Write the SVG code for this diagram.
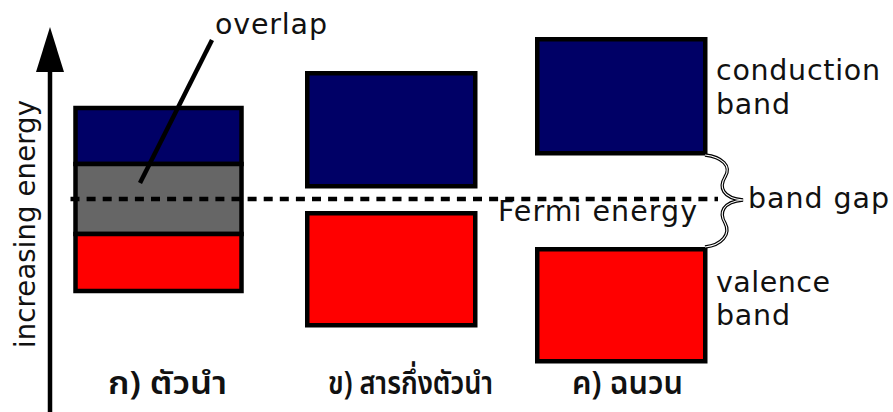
<svg xmlns="http://www.w3.org/2000/svg" width="893" height="412" viewBox="0 0 893 412">
<style>
.box{stroke:#000;stroke-width:4.5}
.cb{fill:#000066}
.vb{fill:#ff0000}
.ov{fill:#666666}
.lbl{font-family:"DejaVu Sans","Liberation Sans",sans-serif;font-size:28.5px;fill:#111}
.th{font-family:"Noto Sans Thai","Noto Sans","DejaVu Sans",sans-serif;font-size:32px;font-weight:600;fill:#111}
.ln{stroke:#000;stroke-width:4.5;fill:none}
</style>
<rect width="893" height="412" fill="#fff"/>
<g id="axis">
<line class="ln" x1="50" y1="412" x2="50" y2="70"/>
<polygon points="50,27 36,72 64,72" fill="#000"/>
<text class="lbl" style="font-size:27.5px" transform="translate(35,224) rotate(-90)" text-anchor="middle" textLength="248" lengthAdjust="spacing">increasing energy</text>
</g>
<g id="conductor">
<rect class="box cb" x="75.5" y="108" width="166" height="56"/>
<rect class="box ov" x="75.5" y="164" width="166" height="70"/>
<rect class="box vb" x="75.5" y="234" width="166" height="57"/>
<text class="th" x="108" y="394" textLength="119" lengthAdjust="spacingAndGlyphs">ก) ตัวนำ</text>
</g>
<g id="semiconductor">
<rect class="box cb" x="307.25" y="73.25" width="168" height="113"/>
<rect class="box vb" x="307.25" y="213.25" width="168" height="112"/>
<text class="th" x="328" y="394" textLength="165" lengthAdjust="spacingAndGlyphs">ข) สารกึ่งตัวนำ</text>
</g>
<g id="insulator">
<rect class="box cb" x="537.25" y="39.25" width="168" height="114"/>
<rect class="box vb" x="537.25" y="249.25" width="168" height="112"/>
<text class="th" x="572" y="394" textLength="111" lengthAdjust="spacingAndGlyphs">ค) ฉนวน</text>
</g>
<g id="labels">
<text class="lbl" x="215" y="34" textLength="112" lengthAdjust="spacing">overlap</text>
<text class="lbl" x="716" y="80" textLength="164" lengthAdjust="spacing">conduction</text>
<text class="lbl" x="716" y="114" textLength="74" lengthAdjust="spacing">band</text>
<text class="lbl" x="748" y="208" textLength="141" lengthAdjust="spacing">band gap</text>
<text class="lbl" x="498" y="221" textLength="199" lengthAdjust="spacing">Fermi energy</text>
<text class="lbl" x="716" y="292" textLength="114" lengthAdjust="spacing">valence</text>
<text class="lbl" x="716" y="325" textLength="74" lengthAdjust="spacing">band</text>
</g>
<g id="connectors">
<line class="ln" x1="70.5" y1="199" x2="718" y2="199" stroke-dasharray="9 7.1"/>
<line class="ln" x1="212" y1="40" x2="140" y2="183"/>
<path d="M705,155 C722,157 732,166 725,177 C719,187 722,198 743,200 C722,202 719,213 725,223 C731,234 722,245 705,247" fill="none" stroke="#000" stroke-width="3.4"/>
<path d="M705,155 C722,157 732,166 725,177 C719,187 722,198 743,200 C722,202 719,213 725,223 C731,234 722,245 705,247" fill="none" stroke="#fff" stroke-width="1.1"/>
</g>
</svg>
